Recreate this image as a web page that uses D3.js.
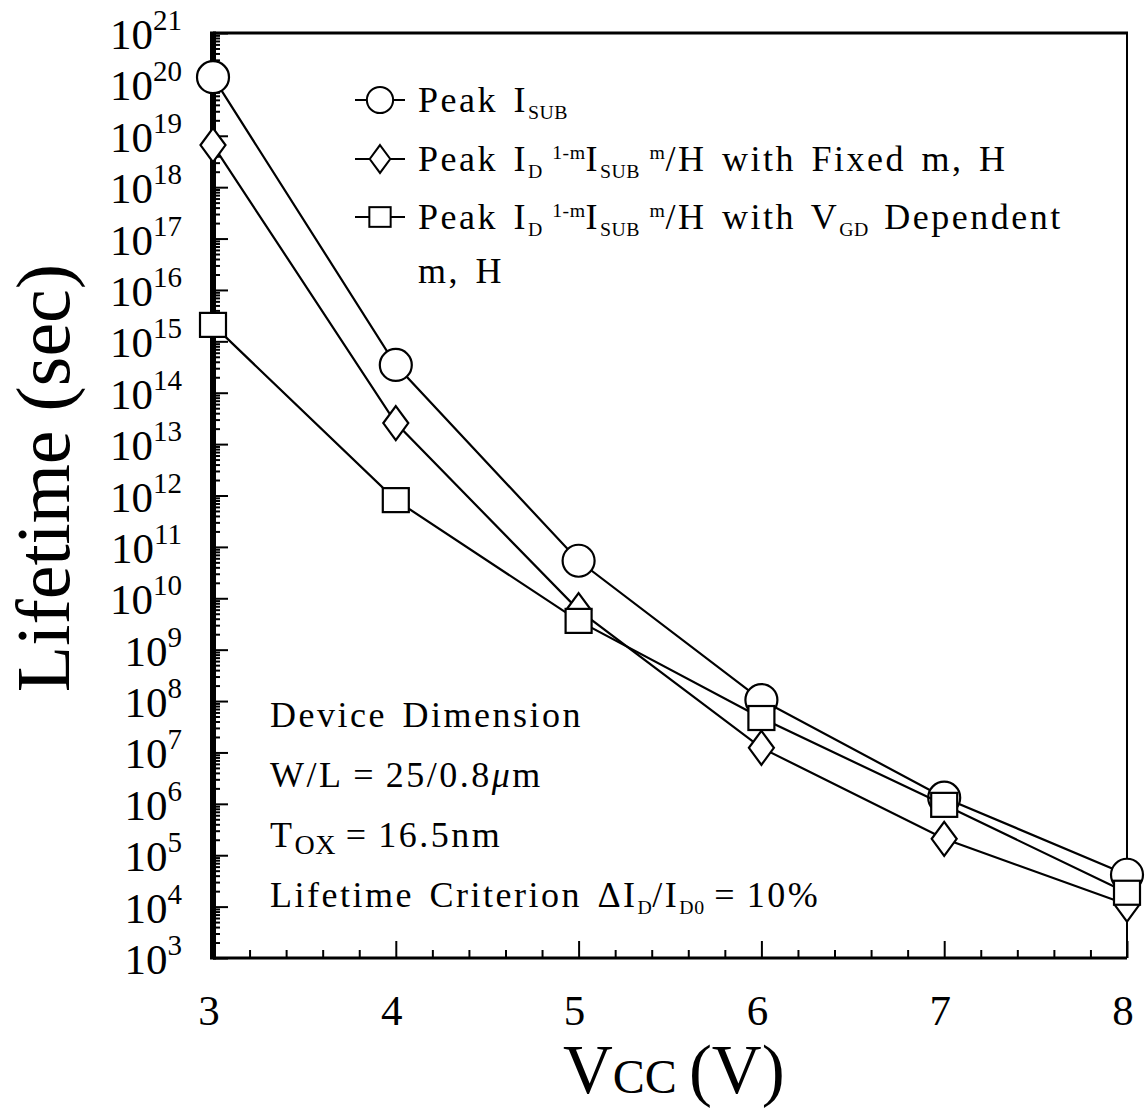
<!DOCTYPE html>
<html>
<head>
<meta charset="utf-8">
<script src="https://cdn.jsdelivr.net/npm/d3@7"></script>
<style>
  body { margin: 0; background: #fff; }
  text { font-family: "Liberation Serif", "Times New Roman", serif; fill: #000; }
</style>
</head>
<body>
<div id="chart"></div>
<script>
const svgWidth = 1146;
const svgHeight = 1112;

// data (lifetime in seconds, log10 values)
const vcc = [3, 4, 5, 6, 7, 8];
const peakIsub = [20.14, 14.54, 10.73, 8.02, 6.12, 4.62];
const fixedMH = [18.82, 13.41, 9.77, 7.09, 5.32, 4.04];
const vgdMH = [15.32, 11.91, 9.56, 7.67, 5.98, 4.27];

const xTicks = [3, 4, 5, 6, 7, 8];
const yExponents = d3.range(3, 22);

const plot = { left: 213, right: 1127, top: 33, bottom: 958 };

const svg = d3.select("#chart")
  .append("svg")
  .attr("width", svgWidth)
  .attr("height", svgHeight);

const x = d3.scaleLinear().domain([3, 8]).range([plot.left, plot.right]);
const y = d3.scaleLog().domain([1e3, 1e21]).range([plot.bottom, plot.top]);

// frame
svg.append("line").attr("x1", plot.left).attr("x2", plot.right + 1)
  .attr("y1", plot.top).attr("y2", plot.top).attr("stroke", "#000").attr("stroke-width", 3);
svg.append("line").attr("x1", plot.right).attr("x2", plot.right)
  .attr("y1", plot.top).attr("y2", plot.bottom).attr("stroke", "#000").attr("stroke-width", 2);

// bottom axis, ticks pointing up
const bottomAxis = d3.axisBottom(x)
  .tickValues(d3.range(3, 8.001, 0.2))
  .tickSize(-8)
  .tickFormat("");
const xAxis = svg.append("g")
  .attr("transform", `translate(0, ${plot.bottom})`)
  .call(bottomAxis);
xAxis.select(".domain").attr("stroke-width", 3).attr("d", `M${plot.left},0H${plot.right}`);
xAxis.selectAll(".tick line").attr("stroke-width", 2)
  .attr("y2", d => Math.abs(d - Math.round(d)) < 1e-6 ? -17 : -8);

// x tick labels
svg.append("g").selectAll("text")
  .data(xTicks)
  .enter()
  .append("text")
  .attr("x", d => x(d) - 4)
  .attr("y", 1025)
  .attr("text-anchor", "middle")
  .attr("font-size", 43)
  .text(d => d);

// left axis with log minor ticks pointing in
const minorVals = [];
yExponents.slice(0, -1).forEach(e => {
  for (let k = 2; k <= 9; k++) minorVals.push(k * Math.pow(10, e));
});
const leftAxis = d3.axisLeft(y)
  .tickValues(yExponents.map(e => Math.pow(10, e)).concat(minorVals))
  .tickSize(-7)
  .tickFormat("");
const yAxis = svg.append("g")
  .attr("transform", `translate(${plot.left}, 0)`)
  .call(leftAxis);
yAxis.select(".domain").attr("stroke-width", 6).attr("d", `M0,${plot.bottom + 1.5}V${plot.top - 1.5}`);
yAxis.selectAll(".tick line").attr("stroke-width", 2)
  .attr("x2", d => Math.abs(Math.log10(d) - Math.round(Math.log10(d))) < 1e-6 ? 15 : 7);

// y tick labels 10^n
const yLabels = svg.append("g").selectAll("text")
  .data(yExponents)
  .enter()
  .append("text")
  .attr("x", 182)
  .attr("y", d => y(Math.pow(10, d)) + 16)
  .attr("text-anchor", "end")
  .attr("font-size", 43);
yLabels.append("tspan").text("10");
yLabels.append("tspan").attr("dy", -19).attr("font-size", 29).text(d => d);

// axis titles
const xTitle = svg.append("text")
  .attr("x", 563)
  .attr("y", 1093)
  .attr("font-size", 69);
xTitle.append("tspan").text("V");
xTitle.append("tspan").attr("font-size", 48).text("CC ");
xTitle.append("tspan").text("(V)");

svg.append("text")
  .attr("transform", `translate(69, 478) rotate(-90)`)
  .attr("text-anchor", "middle")
  .attr("font-size", 76)
  .text("Lifetime (sec)");

// symbols
function drawMarker(g, kind, cx, cy, s) {
  if (kind === "circle") {
    g.append("circle").attr("cx", cx).attr("cy", cy).attr("r", 16 * s);
  } else if (kind === "diamond") {
    g.append("path")
      .attr("d", `M${cx},${cy - 17 * s}L${cx + 12.5 * s},${cy}L${cx},${cy + 17 * s}L${cx - 12.5 * s},${cy}Z`);
  } else {
    g.append("rect").attr("x", cx - 13 * s).attr("y", cy - 12 * s)
      .attr("width", 26 * s).attr("height", 24 * s);
  }
}

const series = [
  { name: "isub", kind: "circle", values: peakIsub },
  { name: "fixed", kind: "diamond", values: fixedMH },
  { name: "vgd", kind: "square", values: vgdMH }
];

const line = d3.line()
  .x(d => x(d[0]))
  .y(d => y(Math.pow(10, d[1])));

series.forEach(s => {
  const pts = vcc.map((v, i) => [v, s.values[i]]);
  const g = svg.append("g")
    .attr("fill", "#fff")
    .attr("stroke", "#000")
    .attr("stroke-width", 2.2);
  g.append("path").attr("d", line(pts)).attr("fill", "none");
  pts.forEach(p => drawMarker(g, s.kind, x(p[0]), y(Math.pow(10, p[1])), 1));
});

// legend
const legend = svg.append("g");
const legendRows = [
  { kind: "circle", y: 100 },
  { kind: "diamond", y: 159 },
  { kind: "square", y: 217 }
];
legendRows.forEach(r => {
  const g = legend.append("g").attr("fill", "#fff").attr("stroke", "#000").attr("stroke-width", 2);
  g.append("line").attr("x1", 355).attr("x2", 405).attr("y1", r.y).attr("y2", r.y);
  drawMarker(g, r.kind, 380, r.y, 0.82);
});

function addText(parent, tx, ty, parts, size) {
  const t = parent.append("text").attr("x", tx).attr("y", ty).attr("font-size", size)
    .attr("letter-spacing", 2.5).attr("word-spacing", 4);
  let shift = 0;
  parts.forEach(p => {
    const target = p.sub ? 7 : p.sup ? -12 : 0;
    const ts = t.append("tspan").text(p.t);
    if (target !== shift) ts.attr("dy", target - shift);
    if (p.sub || p.sup) ts.attr("font-size", p.size || size * 0.55).attr("letter-spacing", 0.5);
    if (p.italic) ts.attr("font-style", "italic");
    shift = target;
  });
  return t;
}

const fs = 36;
addText(legend, 418, 112, [{ t: "Peak I" }, { t: "SUB", sub: true }], fs);
addText(legend, 418, 171, [
  { t: "Peak I" }, { t: "D", sub: true }, { t: " 1-m", sup: true }, { t: "I" },
  { t: "SUB", sub: true }, { t: " m", sup: true }, { t: "/H with Fixed m, H" }
], fs);
addText(legend, 418, 229, [
  { t: "Peak I" }, { t: "D", sub: true }, { t: " 1-m", sup: true }, { t: "I" },
  { t: "SUB", sub: true }, { t: " m", sup: true }, { t: "/H with V" },
  { t: "GD", sub: true }, { t: " Dependent" }
], fs);
addText(legend, 418, 283, [{ t: "m, H" }], fs);

// device annotation
const note = svg.append("g");
addText(note, 270, 727, [{ t: "Device Dimension" }], fs);
addText(note, 270, 787, [{ t: "W/L\u2009=\u200925/0.8" }, { t: "μ", italic: true }, { t: "m" }], fs);
addText(note, 270, 847, [{ t: "T" }, { t: "OX", sub: true, size: 28 }, { t: "\u2009=\u200916.5nm" }], fs);
addText(note, 270, 907, [
  { t: "Lifetime Criterion ΔI" }, { t: "D", sub: true }, { t: "/I" },
  { t: "D0", sub: true }, { t: "\u2009=\u200910%" }
], fs);
</script>
</body>
</html>
